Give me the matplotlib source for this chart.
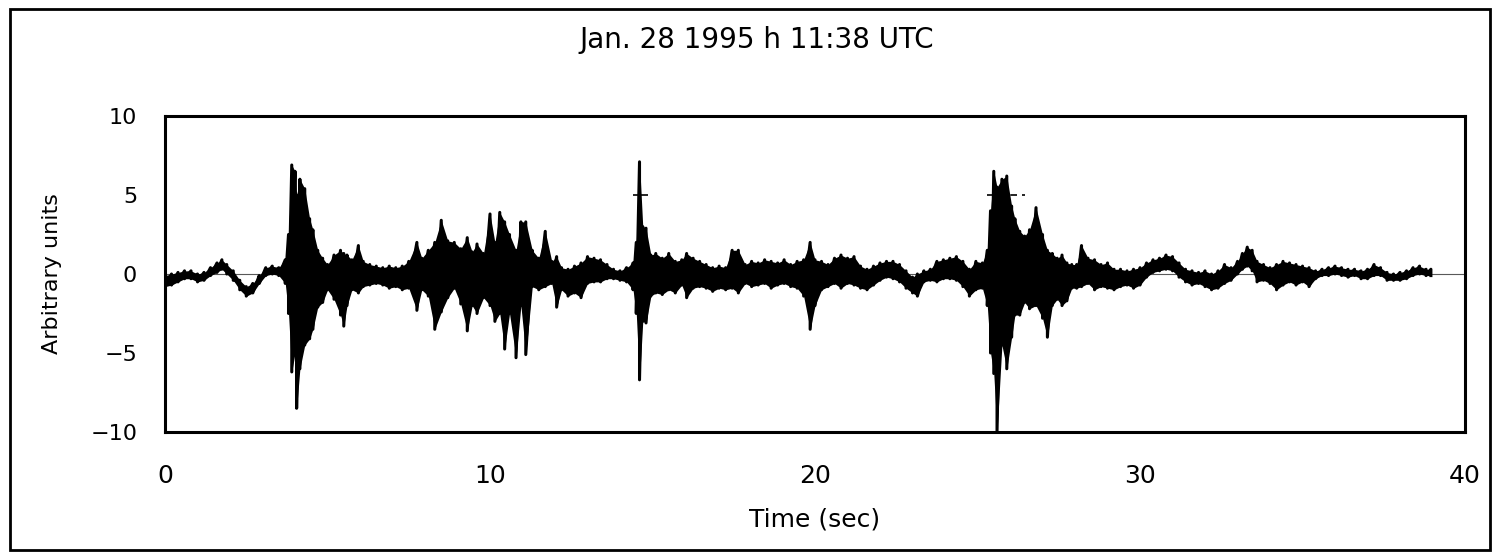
import numpy as np
import matplotlib.pyplot as plt
from matplotlib.patches import Rectangle

plt.rcParams['font.family'] = ['DejaVu Sans']

# Segnale: per ogni istante il picco alto e il picco basso
t_s = [0.0, 0.2, 0.4, 0.6, 0.8, 1.0, 1.2, 1.4, 1.6, 1.75, 1.9, 2.1, 2.3, 2.5, 2.7, 2.9,
       3.1, 3.3, 3.5, 3.7, 3.8, 3.9, 4.0, 4.05, 4.15, 4.3, 4.45, 4.55, 4.7, 4.85, 5.0,
       5.2, 5.4, 5.5, 5.6, 5.75, 5.95, 6.1, 6.3, 6.5, 6.7, 6.9, 7.1, 7.3, 7.5, 7.75,
       7.9, 8.1, 8.3, 8.5, 8.7, 8.9, 9.1, 9.3, 9.45, 9.6, 9.8, 10.0, 10.15, 10.3,
       10.45, 10.6, 10.8, 10.95, 11.1, 11.3, 11.5, 11.7, 11.9, 12.05, 12.2, 12.4,
       12.6, 12.8, 13.0, 13.2, 13.4, 13.6, 13.8, 14.0, 14.2, 14.4, 14.5, 14.6, 14.7,
       14.8, 14.95, 15.1, 15.3, 15.5, 15.7, 15.9, 16.05, 16.25, 16.45, 16.65, 16.85,
       17.05, 17.25, 17.45, 17.64, 17.85, 18.05, 18.25, 18.45, 18.65, 18.85, 19.05,
       19.25, 19.45, 19.65, 19.85, 20.0, 20.2, 20.4, 20.6, 20.8, 21.0, 21.2, 21.4,
       21.6, 21.8, 22.0, 22.2, 22.4, 22.6, 22.8, 23.0, 23.15, 23.35, 23.55, 23.75,
       23.95, 24.15, 24.35, 24.55, 24.75, 24.95, 25.15, 25.3, 25.4, 25.5, 25.6, 25.75,
       25.9, 26.05, 26.15, 26.3, 26.45, 26.6, 26.8, 27.0, 27.15, 27.3, 27.45, 27.6,
       27.75, 27.9, 28.05, 28.2, 28.4, 28.6, 28.8, 29.0, 29.2, 29.4, 29.6, 29.8, 30.0,
       30.2, 30.4, 30.6, 30.8, 31.0, 31.2, 31.4, 31.6, 31.8, 32.0, 32.2, 32.4, 32.6,
       32.8, 33.0, 33.15, 33.3, 33.45, 33.6, 33.8, 34.0, 34.2, 34.4, 34.6, 34.8, 35.0,
       35.2, 35.4, 35.6, 35.8, 36.0, 36.2, 36.4, 36.6, 36.8, 37.0, 37.2, 37.4, 37.6,
       37.8, 38.0, 38.2, 38.4, 38.6, 38.8, 38.95]

picco_alto = [-0.1, 0.0, 0.1, 0.2, 0.2, 0.0, 0.1, 0.4, 0.7, 0.9, 0.6, 0.2, -0.4, -0.8, -0.6, -0.1,
              0.4, 0.5, 0.4, 0.9, 2.5, 6.9, 6.5, 5.0, 6.0, 5.4, 3.5, 2.8, 1.5, 1.0, 0.6,
              1.2, 1.5, 1.3, 1.2, 0.9, 1.8, 0.8, 0.6, 0.5, 0.4, 0.5, 0.4, 0.5, 0.8, 2.0,
              1.0, 1.5, 2.0, 3.4, 2.1, 2.0, 1.6, 2.3, 1.4, 1.9, 1.3, 3.8, 2.0, 3.9,
              3.3, 2.5, 1.5, 3.3, 3.3, 1.5, 1.0, 2.7, 0.8, 1.1, 0.4, 0.3,
              0.5, 0.7, 1.1, 1.0, 0.9, 0.6, 0.3, 0.2, 0.4, 0.7, 2.0, 7.1, 3.0,
              2.9, 1.2, 1.3, 1.0, 1.3, 0.8, 0.9, 1.3, 1.0, 0.8, 0.6, 0.4,
              0.5, 0.4, 1.5, 1.5, 0.6, 0.8, 0.7, 0.9, 0.8, 0.7, 0.9,
              0.6, 0.8, 0.9, 2.0, 0.9, 0.8, 0.6, 1.0, 1.2, 1.0, 1.1, 0.5,
              0.3, 0.5, 0.7, 0.8, 0.8, 0.6, 0.2, -0.2, 0.0, 0.2, 0.3, 0.8,
              0.9, 1.0, 1.1, 0.8, 0.3, 0.8, 0.7, 1.5, 4.0, 6.5, 5.5, 6.0,
              6.2, 4.3, 3.5, 2.7, 2.4, 2.8, 4.2, 2.5, 1.5, 1.3, 1.0, 1.2,
              0.7, 0.6, 0.6, 1.8, 1.0, 0.9, 0.6, 0.7, 0.3, 0.3, 0.2, 0.3, 0.4,
              0.7, 0.9, 1.0, 1.2, 1.1, 0.7, 0.3, 0.2, 0.1, 0.2, 0.0, 0.2, 0.6,
              0.4, 0.8, 1.3, 1.7, 1.5, 0.8, 0.6, 0.4, 0.6, 0.8, 0.7, 0.6, 0.5,
              0.4, 0.2, 0.3, 0.4, 0.5, 0.4, 0.3, 0.3, 0.2, 0.3, 0.6, 0.4, 0.1,
              0.0, 0.1, 0.2, 0.4, 0.5, 0.3, 0.3]

picco_basso = [-0.8, -0.7, -0.5, -0.3, -0.3, -0.5, -0.4, -0.1, 0.1, 0.3, 0.0, -0.4, -1.0, -1.4, -1.2, -0.6,
               -0.1, 0.0, -0.1, -0.6, -2.5, -6.2, -5.0, -8.5, -6.0, -4.5, -4.1, -3.5, -2.1, -1.8, -1.0,
               -1.6, -2.6, -3.3, -2.0, -1.0, -1.2, -0.8, -0.7, -0.6, -0.7, -0.9, -0.8, -1.0, -0.9, -2.3,
               -1.0, -1.4, -3.5, -2.4, -1.5, -0.9, -1.9, -3.6, -2.0, -2.5, -1.5, -2.0, -3.0, -2.5,
               -4.75, -2.5, -5.3, -2.0, -5.1, -0.8, -1.0, -0.8, -0.6, -2.1, -1.0, -1.4,
               -1.2, -1.5, -0.6, -0.5, -0.5, -0.3, -0.3, -0.4, -0.5, -1.0, -2.5, -6.7, -3.0,
               -3.1, -1.4, -1.2, -1.3, -1.0, -1.2, -0.7, -1.5, -0.9, -0.8, -0.9, -1.1,
               -0.9, -1.0, -0.9, -1.2, -0.6, -0.8, -0.7, -0.6, -0.9, -0.7, -0.6,
               -0.8, -0.9, -1.4, -3.5, -2.0, -1.0, -0.8, -0.6, -0.9, -0.6, -0.7, -0.9,
               -1.0, -0.7, -0.4, -0.2, -0.3, -0.5, -0.9, -1.2, -1.4, -0.5, -0.4, -0.5,
               -0.3, -0.3, -0.4, -0.8, -1.4, -1.0, -0.9, -2.0, -5.0, -6.3, -10.0, -4.5,
               -6.0, -4.0, -2.6, -2.6, -1.8, -2.2, -2.0, -2.8, -4.0, -2.0, -1.6, -2.0,
               -1.7, -0.9, -0.9, -0.8, -0.6, -1.0, -0.8, -0.9, -1.0, -0.8, -0.7, -0.9, -0.7,
               -0.2, 0.1, 0.2, 0.3, 0.2, -0.2, -0.5, -0.7, -0.6, -0.8, -1.0, -0.9, -0.6,
               -0.4, 0.0, 0.3, 0.5, 0.2, -0.5, -0.4, -0.6, -1.0, -0.7, -0.5, -0.7, -0.5,
               -0.8, -0.3, -0.1, -0.1, 0.0, -0.1, -0.2, -0.1, -0.3, -0.3, -0.1, -0.1, -0.4,
               -0.4, -0.4, -0.3, -0.1, 0.0, -0.1, -0.1]

x_ticks = [0, 10, 20, 30, 40]
y_ticks = [-10, -5, 0, 5, 10]
y_tick_labels = ['\u221210', '\u22125', '0', '5', '10']

fig = plt.figure(figsize=(14.96, 5.59), dpi=100)
ax = fig.add_axes([0.1103, 0.2272, 0.869, 0.5653])

t = np.array(t_s)
alto = np.array(picco_alto)
basso = np.array(picco_basso)

# linea di riferimento sullo zero
ax.axhline(0, color='0.35', lw=0.8, zorder=1)

# tracciato: banda piena tra i picchi + zig-zag alto/basso
ax.fill_between(t, basso, alto, color='black', lw=0, zorder=2)
zig_x = np.repeat(t, 2)
zig_y = np.column_stack([alto, basso]).ravel()
ax.plot(zig_x, zig_y, color='black', lw=2.2, zorder=3)

# piccoli segni tratteggiati a quota 5 presenti nell'originale
ax.hlines(5, 14.4, 14.85, color='black', lw=1.2, zorder=3)
ax.hlines(5, 25.3, 26.45, color='black', lw=1.2, linestyles=(0, (4, 3)), zorder=3)

ax.set_xlim(0, 40)
ax.set_ylim(-10, 10)
ax.set_xticks(x_ticks)
ax.set_yticks(y_ticks)
ax.set_yticklabels(y_tick_labels)
ax.tick_params(axis='both', length=0, colors='black')
ax.tick_params(axis='x', pad=23, labelsize=18)
ax.tick_params(axis='y', pad=20, labelsize=16)
for sp in ax.spines.values():
    sp.set_linewidth(2.2)

ax.set_xlabel('Time (sec)', fontsize=18)
ax.xaxis.set_label_coords(0.5, -0.2405)
ax.set_ylabel('Arbitrary units', fontsize=16)
ax.yaxis.set_label_coords(-0.079, 0.5)
fig.text(0.506, 0.928, 'Jan. 28 1995 h 11:38 UTC', ha='center', va='center', fontsize=20)

# cornice esterna
fig.add_artist(Rectangle((10 / 1496, 9 / 559), 1480 / 1496, 541 / 559,
                         transform=fig.transFigure, fill=False, lw=2, color='black'))

plt.savefig('out.png', dpi=100)
